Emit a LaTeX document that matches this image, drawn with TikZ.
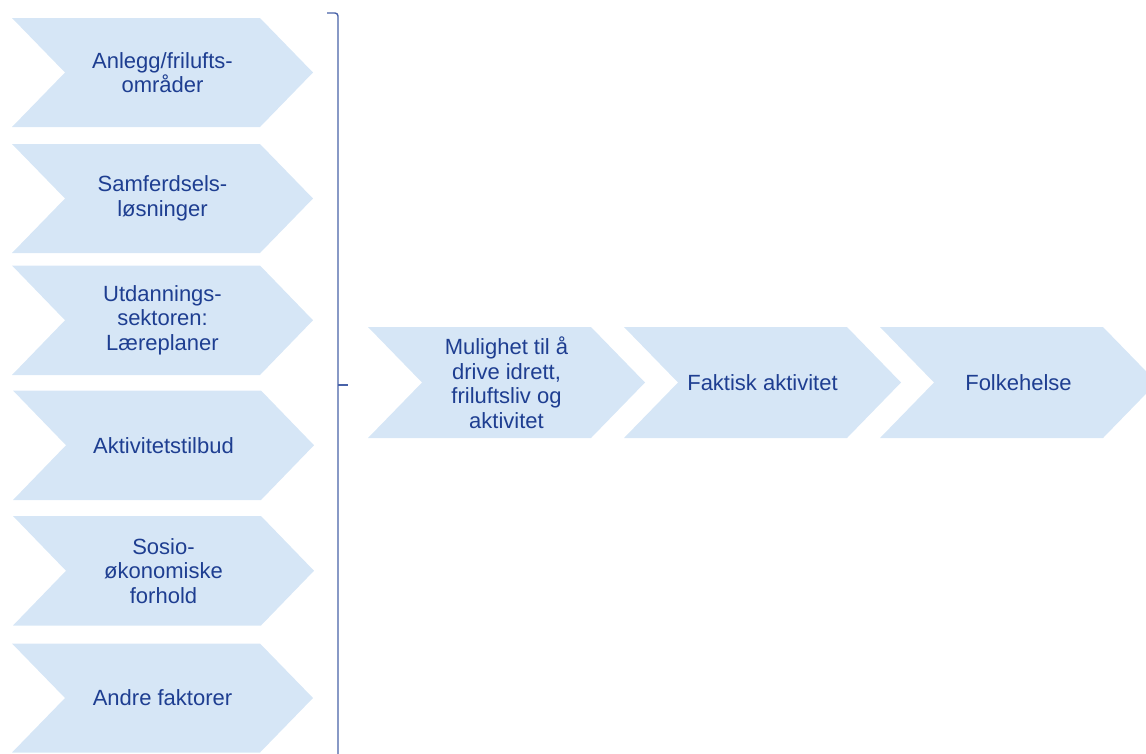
\documentclass[tikz,border=0pt]{standalone}
\usepackage{fontspec}
\setmainfont{Liberation Sans}
\definecolor{chevfill}{RGB}{214,230,246}
\definecolor{chevtext}{RGB}{30,62,145}
\definecolor{brack}{RGB}{72,98,168}
\newcommand\chevron[7]{% x, y, w, h, d, name, text
  \fill[chevfill] (#1,#2) -- ++(#3-#5,0) -- ++(#5,#4/2) -- ++(-#5,#4/2) -- ++(-#3+#5,0) -- ++(#5,-#4/2) -- cycle;
  \node[lbl] (#6) at (#1+#3/2,#2+#4/2) {#7};
}
\begin{document}
\begin{tikzpicture}[x=1pt,y=-1pt,
  lbl/.style={text=chevtext,font=\fontsize{22}{24.5}\selectfont,align=center,inner sep=0pt}]
\useasboundingbox (0,0) rectangle (1146,753);
\chevron{12}{18}{301}{109}{53}{a1}{Anlegg/frilufts-\\områder}
\chevron{12}{144}{301}{109}{53}{a2}{Samferdsels-\\løsninger}
\chevron{12}{265.5}{301}{109.5}{53}{a3}{Utdannings-\\sektoren:\\Læreplaner}
\chevron{13}{390.5}{301}{109.5}{53}{a4}{Aktivitetstilbud}
\chevron{13}{516}{301}{109.5}{53}{a5}{Sosio-\\økonomiske\\forhold}
\chevron{12}{643.5}{301}{109}{53}{a6}{Andre faktorer}
\chevron{368}{327}{277}{111}{54}{b1}{Mulighet til å\\drive idrett,\\friluftsliv og\\aktivitet}
\chevron{624}{327}{277}{111}{54}{b2}{Faktisk aktivitet}
\chevron{880}{327}{277}{111}{54}{b3}{Folkehelse}
\coordinate (bt) at (327,13);
\coordinate (bb) at (338,760);
\coordinate (bm) at (338,385);
\coordinate (bmt) at (348,385);
\draw[brack,line width=1.4pt,rounded corners=3pt] (bt) -- (bt -| bb) -- (bb);
\draw[brack,line width=1.4pt] (bm) -- (bmt);
\end{tikzpicture}
\end{document}
